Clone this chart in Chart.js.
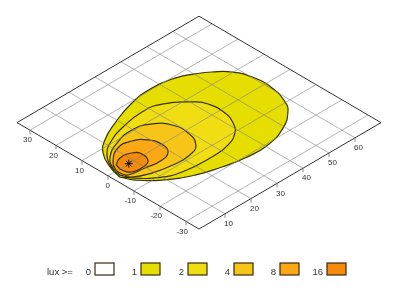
<!DOCTYPE html>
<html>
<head>
<meta charset="utf-8">
<style>
  html, body { margin: 0; padding: 0; background: #fff; }
  canvas { display: block; }
</style>
<script src="https://cdn.jsdelivr.net/npm/chart.js@4"></script>
</head>
<body>
<canvas id="lux_grafica" width="400" height="293"></canvas>
<script>
// contours in metres, [x, y]
const lux1 = [[1.9,-2.7],[3.8,-6.6],[9,-11.8],[17,-16.5],[24.8,-19],[32.2,-20.5],[40.9,-20.6],[49.35,-17.95],[55.6,-13.6],[58.35,-9.75],[60.45,-2.65],[60.2,4.8],[58,10.3],[54.15,14.15],[50.25,16.75],[45.05,19.25],[37.35,20.45],[28.55,19.35],[18.7,16],[11.2,12.4],[6.55,8.45],[3.3,2.5]];
const lux2 = [[1.9,-2.7],[3.9,-5.3],[8.35,-9.75],[15.5,-13],[27.45,-13.75],[33.25,-12.95],[38.5,-10.3],[41.4,-6.7],[43.15,-1.85],[42.85,4.35],[41.05,7.55],[34,13.2],[27.55,14.45],[18.95,13.15],[12.55,11.05],[6.65,7.05],[3.3,1.8]];
const lux4 = [[2.55,-2.05],[4.2,-5],[9.35,-7.55],[16.05,-8.95],[22.6,-8.9],[27.05,-6.75],[29.5,-1.3],[29,4.4],[25.5,8.6],[19.65,10.45],[12.55,9.05],[6.6,5.8],[3.5,1.6]];
const lux8 = [[3.3,-2.1],[4.1,-3.6],[9.65,-4.55],[15.6,-5.2],[19.4,-3.7],[20.75,-0.45],[19.5,4.1],[16.05,6.85],[11.05,7.25],[5.5,3.6],[3.45,0.35]];
const lux16 = [[5.1,2],[8.15,3.55],[12.1,2.9],[13.7,0.6],[12.55,-2.85],[9.65,-3.85],[5.85,-3.35],[4.6,-0.8]];
const lampara = [[8,0]];

const ticks_x = [10, 20, 30, 40, 50, 60];
const ticks_y = [30, 20, 10, 0, -10, -20, -30];
const etiquetas_leyenda = ["0", "1", "2", "4", "8", "16"];
const colores = ["#ffffff", "#e6de00", "#f0de12", "#f6c518", "#fba814", "#f68a0a"];

const x_max = 70, y_lim = 35;

// oblique view of the ground plane
function proyectar(x, y) {
  return {
    x: 199 + 2.6 * x - 2.6 * (y + y_lim),
    y: 229 - 1.52 * x - 1.52 * (y + y_lim),
  };
}
const camino = (pts) => pts.concat([pts[0]]).map(([x, y]) => proyectar(x, y));

const contorno = (data, color, order) => ({
  data: camino(data),
  showLine: true,
  fill: "shape",
  backgroundColor: color,
  borderColor: "#3a3300",
  borderWidth: 1.2,
  tension: 0.5,
  pointRadius: 0,
  order,
});

const linea = (pts, color, order) => ({
  data: pts.map(([x, y]) => proyectar(x, y)),
  showLine: true,
  fill: false,
  borderColor: color,
  borderWidth: 1,
  pointRadius: 0,
  order,
});

const rejilla = [
  ...ticks_x.map((t) => linea([[t, -y_lim], [t, y_lim]], "rgba(130,130,130,0.6)", 4)),
  ...ticks_y.map((t) => linea([[0, t], [x_max, t]], "rgba(130,130,130,0.6)", 4)),
];
const marco = linea([[0, -y_lim], [x_max, -y_lim], [x_max, y_lim], [0, y_lim], [0, -y_lim]], "#333333", 3);

const textos = {
  id: "textos",
  afterDraw(chart) {
    const { ctx, scales } = chart;
    const px = (p) => ({ x: scales.x.getPixelForValue(p.x), y: scales.y.getPixelForValue(p.y) });
    ctx.save();
    ctx.font = "8px 'Liberation Sans'";
    ctx.fillStyle = "#333";
    ctx.strokeStyle = "#888";
    ctx.lineWidth = 1;
    ctx.textBaseline = "middle";

    const marca = (p) => {
      ctx.beginPath();
      ctx.moveTo(p.x, p.y);
      ctx.lineTo(p.x, p.y + 4);
      ctx.stroke();
    };
    ctx.textAlign = "right";
    ticks_y.forEach((t) => {
      const p = px(proyectar(0, t));
      marca(p);
      ctx.fillText(t, p.x + 2, p.y + 10);
    });
    ctx.textAlign = "left";
    ticks_x.forEach((t) => {
      const p = px(proyectar(t, -y_lim));
      marca(p);
      ctx.fillText(t, p.x - 1, p.y + 10);
    });

    // leyenda
    ctx.font = "9.5px 'Liberation Sans'";
    ctx.fillStyle = "#333";
    ctx.fillText("lux >=", 47, 272);
    const cajas = [95, 141, 188, 234, 280, 327];
    ctx.strokeStyle = "#3a2a10";
    ctx.lineWidth = 1.2;
    etiquetas_leyenda.forEach((e, i) => {
      ctx.textAlign = "right";
      ctx.fillStyle = "#333";
      ctx.fillText(e, cajas[i] - 4, 272);
      ctx.fillStyle = colores[i];
      ctx.fillRect(cajas[i], 263, 19, 12);
      ctx.strokeRect(cajas[i], 263, 19, 12);
    });
    ctx.restore();
  },
};

new Chart(document.getElementById("lux_grafica").getContext("2d"), {
  type: "scatter",
  data: {
    datasets: [
      contorno(lux1, colores[1], 9),
      contorno(lux2, colores[2], 8),
      contorno(lux4, colores[3], 7),
      contorno(lux8, colores[4], 6),
      contorno(lux16, colores[5], 5),
      ...rejilla,
      marco,
      {
        data: lampara.map(([x, y]) => proyectar(x, y)),
        pointStyle: "star",
        pointRadius: 4,
        borderColor: "#111",
        borderWidth: 1,
        order: 0,
      },
    ],
  },
  options: {
    responsive: false,
    animation: false,
    layout: { padding: 0, autoPadding: false },
    plugins: { legend: { display: false }, tooltip: { enabled: false } },
    scales: {
      x: { type: "linear", min: 0, max: 400, display: false },
      y: { type: "linear", min: 0, max: 293, reverse: true, display: false },
    },
  },
  plugins: [textos],
});
</script>
</body>
</html>
